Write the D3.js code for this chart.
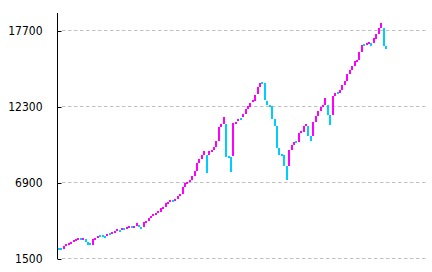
<!DOCTYPE html>
<html>
<head>
<meta charset="utf-8">
<script src="https://cdn.jsdelivr.net/npm/d3@7"></script>
<style>
  body { margin: 0; background: #fff; }
  svg { display: block; }
</style>
</head>
<body>
<div id="chart"></div>
<script>
// tick values of the y axis
var yTicks = [1500, 6900, 12300, 17700];

// bar bodies: value at the start and at the end of each period
var opens = [
  2220, 2220, 2150, 2380, 2450, 2570, 2670, 2760, 2860, 2950,
  2880, 2900, 2670, 2570, 2450, 2860, 2970, 3160, 3160, 3110,
  3140, 3300, 3280, 3350, 3450, 3540, 3500, 3680, 3640, 3710,
  3820, 3750, 3820, 3850, 3750, 3680, 4040, 4190, 4410, 4510,
  4630, 4750, 4850, 5080, 5150, 5440, 5530, 5680, 5600, 5740,
  5930, 6080, 6570, 6860, 6950, 7090, 7350, 7710, 8280, 8560,
  8850, 8850, 8850, 9130, 9200, 9420, 9840, 10840, 11050, 11050,
  8780, 8700, 8730, 11050, 11210, 11500, 11500, 11760, 12110, 12260,
  12560, 12700, 13160, 13680, 14050, 13940, 12680, 12400, 12330, 11400,
  10910, 9370, 8920, 8850, 8070, 8070, 9200, 9560, 9840, 9790,
  10410, 10480, 10910, 10910, 10200, 10200, 11190, 11620, 11970, 12260,
  12400, 12400, 11690, 11690, 13040, 13320, 13250, 13470, 13820, 14100,
  14600, 14890, 15170, 15530, 15600, 16160, 16730, 16660, 16800, 16800,
  16800, 17090, 17440, 17870, 17870, 16590
];
var closes = [
  2100, 2100, 2380, 2500, 2570, 2690, 2790, 2860, 2930, 2880,
  2950, 2670, 2470, 2430, 2880, 2970, 3110, 3040, 3090, 3000,
  3250, 3180, 3380, 3450, 3570, 3450, 3640, 3590, 3750, 3800,
  3750, 3840, 4020, 3750, 3640, 4070, 4180, 4410, 4550, 4630,
  4750, 4850, 5100, 5170, 5440, 5530, 5670, 5600, 5740, 5930,
  6080, 6570, 6860, 6950, 7090, 7350, 7710, 8280, 8560, 8850,
  9130, 7570, 9130, 9220, 9420, 9840, 10860, 11050, 11550, 8730,
  8650, 7660, 11100, 11210, 11380, 11350, 11740, 12110, 12310, 12560,
  12730, 13110, 13680, 13940, 13940, 12700, 12400, 12280, 11430, 10910,
  9370, 8850, 8780, 8070, 7090, 9200, 9560, 9770, 9720, 10410,
  10550, 10910, 11050, 10200, 9840, 11190, 11620, 11970, 12260, 12400,
  12900, 11690, 10980, 13040, 13250, 13180, 13470, 13820, 14100, 14600,
  14890, 15170, 15530, 15600, 16160, 16660, 16590, 16800, 16880, 16590,
  17160, 17440, 17870, 18230, 16590, 16380
];

var upColor = "#ff00ff",
    downColor = "#00ccff";

var width = 432, height = 272;

var svg = d3.select("#chart")
  .append("svg")
    .attr("width", width)
    .attr("height", height);

// scales
var x = d3.scaleLinear()
  .domain([0, opens.length - 1])
  .range([58, 385]);

var y = d3.scaleLinear()
  .domain([1500, 18900])
  .range([258.5, 13.6]);

// dashed grid lines
svg.append("g")
  .selectAll("line")
  .data(yTicks)
  .enter()
  .append("line")
    .attr("x1", 62)
    .attr("x2", 427)
    .attr("y1", function(d) { return Math.floor(y(d)) + 0.5 })
    .attr("y2", function(d) { return Math.floor(y(d)) + 0.5 })
    .attr("stroke", "#c0c0c0")
    .attr("stroke-width", 1)
    .attr("stroke-dasharray", "3.5,2.5");

// y axis
var yAxis = d3.axisLeft(y)
  .tickValues(yTicks)
  .tickSize(0)
  .tickPadding(15)
  .tickFormat(d3.format("d"));

var gy = svg.append("g")
  .attr("transform", "translate(57.5,0)")
  .call(yAxis);

gy.select(".domain")
  .attr("d", "M0," + Math.floor(y(18900)) + "V" + (Math.floor(y(1500)) + 1))
  .attr("stroke", "#000");

gy.selectAll(".tick text")
  .attr("fill", "#000")
  .style("font-family", "'Liberation Sans Narrow', 'DejaVu Sans Condensed', sans-serif")
  .style("font-size", "12px");

// small tick marks pointing into the plot
gy.selectAll(".tick").append("line")
  .attr("x1", 0)
  .attr("x2", 4)
  .attr("y1", 0.5)
  .attr("y2", 0.5)
  .attr("stroke", "#000");

// bars from open to close
var bars = opens.map(function(o, i) { return {i: i, open: o, close: closes[i]}; });

svg.append("g")
  .attr("shape-rendering", "crispEdges")
  .selectAll("rect")
  .data(bars)
  .enter()
  .append("rect")
    .attr("x", function(d) { return Math.round(x(d.i)) })
    .attr("width", 2)
    .attr("y", function(d) { return Math.round(Math.min(y(d.open), y(d.close))) })
    .attr("height", function(d) { return Math.max(2, Math.round(Math.abs(y(d.open) - y(d.close)))) })
    .attr("fill", function(d) { return d.close >= d.open ? upColor : downColor });
</script>
</body>
</html>
